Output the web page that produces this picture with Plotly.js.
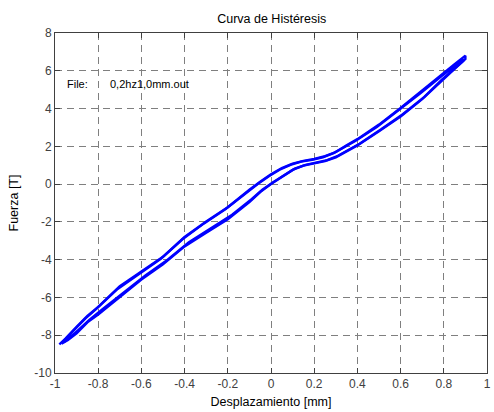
<!DOCTYPE html>
<html>
<head>
<meta charset="utf-8">
<script src="https://cdn.plot.ly/plotly-3.0.1.min.js"></script>
<style>
  html, body { margin: 0; padding: 0; background: #fff; }
  #chart { width: 494px; height: 412px; }
</style>
</head>
<body>
<div id="chart"></div>
<script>
// Hysteresis loop: force vs displacement, two recorded cycles (0,2 Hz, 1,0 mm)
const cycle1LoadX   = [-0.97, -0.94, -0.90, -0.85, -0.80, -0.70, -0.60, -0.50, -0.40, -0.30, -0.20, -0.10, -0.05, 0.00, 0.05, 0.10, 0.15, 0.20, 0.25, 0.30, 0.35, 0.40, 0.50, 0.60, 0.70, 0.80, 0.85, 0.90];
const cycle1LoadY   = [-8.45, -8.25, -7.90, -7.32, -6.90, -5.95, -5.05, -4.25, -3.30, -2.57, -1.86, -0.95, -0.42, 0.00, 0.38, 0.75, 0.98, 1.10, 1.22, 1.42, 1.72, 2.05, 2.80, 3.58, 4.50, 5.60, 6.10, 6.62];
const cycle1UnloadX = [0.90, 0.85, 0.80, 0.70, 0.60, 0.50, 0.40, 0.35, 0.30, 0.25, 0.20, 0.15, 0.10, 0.05, 0.00, -0.05, -0.10, -0.20, -0.30, -0.40, -0.50, -0.60, -0.70, -0.80, -0.85, -0.90, -0.94, -0.97];
const cycle1UnloadY = [6.80, 6.35, 5.88, 4.95, 4.03, 3.15, 2.38, 2.05, 1.70, 1.48, 1.33, 1.23, 1.08, 0.85, 0.52, 0.12, -0.30, -1.22, -1.98, -2.80, -3.85, -4.62, -5.40, -6.50, -6.98, -7.55, -8.05, -8.40];

const cycle2LoadX   = [-0.96, -0.93, -0.89, -0.84, -0.78, -0.68, -0.58, -0.48, -0.38, -0.28, -0.18, -0.09, -0.04, 0.01, 0.06, 0.11, 0.16, 0.21, 0.26, 0.31, 0.36, 0.41, 0.51, 0.61, 0.71, 0.79, 0.84, 0.89];
const cycle2LoadY   = [-8.38, -8.12, -7.70, -7.18, -6.62, -5.70, -4.82, -4.02, -3.08, -2.35, -1.62, -0.80, -0.30, 0.10, 0.48, 0.82, 1.02, 1.14, 1.27, 1.50, 1.80, 2.14, 2.90, 3.70, 4.62, 5.52, 6.02, 6.52];
const cycle2UnloadX = [0.89, 0.84, 0.79, 0.69, 0.59, 0.49, 0.39, 0.34, 0.29, 0.24, 0.19, 0.14, 0.09, 0.04, -0.01, -0.06, -0.11, -0.21, -0.31, -0.41, -0.51, -0.61, -0.71, -0.81, -0.86, -0.91, -0.95, -0.98];
const cycle2UnloadY = [6.62, 6.18, 5.72, 4.80, 3.90, 3.02, 2.28, 1.96, 1.64, 1.42, 1.28, 1.19, 1.02, 0.76, 0.42, 0.02, -0.42, -1.32, -2.08, -2.92, -3.95, -4.74, -5.55, -6.62, -7.12, -7.70, -8.18, -8.48];

const xTicks = [-1, -0.8, -0.6, -0.4, -0.2, 0, 0.2, 0.4, 0.6, 0.8, 1];
const yTicks = [-10, -8, -6, -4, -2, 0, 2, 4, 6, 8];
const fileLabel = 'File:';
const fileName = '0,2hz1,0mm.out';

const FONT = 'Liberation Sans, Arial, sans-serif';
const lineStyle = { color: '#0000ff', width: 2.4 };
const loop = (xs, ys) => ({ x: xs, y: ys, type: 'scatter', mode: 'lines', line: lineStyle, hoverinfo: 'skip', showlegend: false });

const traces = [
  loop(cycle1LoadX.concat(cycle1UnloadX), cycle1LoadY.concat(cycle1UnloadY)),
  loop(cycle2LoadX.concat(cycle2UnloadX), cycle2LoadY.concat(cycle2UnloadY))
];

const axisCommon = {
  showline: true, linecolor: '#404040', linewidth: 1, mirror: 'ticks',
  ticks: 'inside', ticklen: 5, tickcolor: '#404040', tickwidth: 1,
  showgrid: true, gridcolor: '#7f7f7f', gridwidth: 1, griddash: '7px,5px',
  zeroline: false, tickmode: 'array',
  tickfont: { family: FONT, size: 12, color: '#404040' }
};

const layout = {
  width: 494, height: 412,
  margin: { l: 55, r: 7, t: 33, b: 39 },
  paper_bgcolor: '#fff', plot_bgcolor: '#fff',
  title: { text: 'Curva de Histéresis', x: 0.55, xanchor: 'center', y: 0.956, yanchor: 'middle',
           font: { family: FONT, size: 12.5, color: '#000' } },
  xaxis: Object.assign({}, axisCommon, {
    range: [-1, 1], tickvals: xTicks, ticktext: xTicks.map(String),
    title: { text: 'Desplazamiento [mm]', standoff: 6, font: { family: FONT, size: 12.5, color: '#000' } }
  }),
  yaxis: Object.assign({}, axisCommon, {
    range: [-10, 8], tickvals: yTicks, ticktext: yTicks.map(String),
    title: { text: 'Fuerza [T]', standoff: 12, font: { family: FONT, size: 12.5, color: '#000' } }
  }),
  annotations: [
    { x: -0.955, y: 5.3, xref: 'x', yref: 'y', text: fileLabel, showarrow: false, xanchor: 'left',
      font: { family: FONT, size: 11, color: '#000' } },
    { x: -0.755, y: 5.3, xref: 'x', yref: 'y', text: fileName, showarrow: false, xanchor: 'left',
      font: { family: FONT, size: 11, color: '#000' } }
  ]
};

Plotly.newPlot('chart', traces, layout, { staticPlot: true, displayModeBar: false });
</script>
</body>
</html>
